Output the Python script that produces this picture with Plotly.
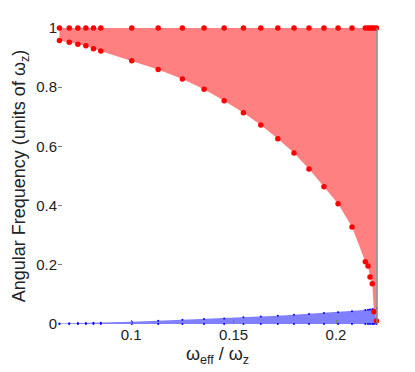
import plotly.graph_objects as go

# omega_eff / omega_z sample points
ratio = [0.0650, 0.0698, 0.0740, 0.0779, 0.0816, 0.0852, 0.1003, 0.1132, 0.1250,
         0.1356, 0.1454, 0.1548, 0.1633, 0.1716, 0.1795, 0.1868, 0.1941, 0.2010,
         0.2078, 0.2143, 0.2156, 0.2166, 0.2177, 0.2185, 0.2197]

# upper branch (red band top), lower branch (red band bottom)
red_upper = [1.0] * len(ratio)
red_lower = [0.958, 0.952, 0.945, 0.940, 0.930, 0.922, 0.889, 0.860, 0.828,
             0.793, 0.754, 0.714, 0.672, 0.626, 0.578, 0.524, 0.464, 0.406,
             0.328, 0.210, 0.196, 0.159, 0.136, 0.041, 0.010]

# low-frequency band (blue)
blue_lower = [0.0] * len(ratio)
blue_upper = [0.002, 0.0025, 0.003, 0.0035, 0.004, 0.0045, 0.008, 0.011, 0.014,
              0.017, 0.019, 0.023, 0.025, 0.028, 0.031, 0.034, 0.037, 0.040,
              0.043, 0.047, 0.048, 0.049, 0.050, 0.051, 0.053]

x_ticks = [0.1, 0.15, 0.2]
x_labels = ["0.1", "0.15", "0.2"]
y_ticks = [0, 0.2, 0.4, 0.6, 0.8, 1]
y_labels = ["0", "0.2", "0.4", "0.6", "0.8", "1"]

fig = go.Figure()

fig.add_trace(go.Scatter(x=ratio, y=blue_lower, mode="lines+markers",
                         line=dict(width=0, color="blue"),
                         marker=dict(color="blue", size=2),
                         cliponaxis=False, showlegend=False))
fig.add_trace(go.Scatter(x=ratio, y=blue_upper, mode="lines+markers",
                         line=dict(width=0, color="blue"),
                         marker=dict(color="blue", size=2),
                         fill="tonexty", fillcolor="rgb(128,128,255)",
                         cliponaxis=False, showlegend=False))

fig.add_trace(go.Scatter(x=ratio, y=red_upper, mode="lines+markers",
                         line=dict(width=0, color="red"),
                         marker=dict(color="red", size=5.5),
                         cliponaxis=False, showlegend=False))
fig.add_trace(go.Scatter(x=ratio, y=red_lower, mode="lines+markers",
                         line=dict(width=0, color="red"),
                         marker=dict(color="red", size=5.5),
                         fill="tonexty", fillcolor="rgb(255,128,128)",
                         cliponaxis=False, showlegend=False))

# gray edge on the right of the plot box
fig.add_shape(type="line", xref="paper", yref="paper", x0=1, x1=1, y0=0, y1=1,
              line=dict(color="gray", width=1.5))

fig.update_layout(
    width=415, height=372,
    margin=dict(l=50, r=46, t=20, b=56),
    plot_bgcolor="white", paper_bgcolor="white",
    font=dict(family="Liberation Sans, Arial, sans-serif", size=15, color="#222"),
    xaxis=dict(range=[0.0643, 0.2200], tickvals=x_ticks, ticktext=x_labels,
               ticks="inside", ticklen=4, tickcolor="#777", showline=False,
               showgrid=False, zeroline=False,
               title=dict(text="\u03c9<sub>eff</sub> / \u03c9<sub>z</sub>", standoff=5)),
    yaxis=dict(range=[0, 1], tickvals=y_ticks, ticktext=y_labels,
               ticks="inside", ticklen=4, tickcolor="#777", showline=False,
               showgrid=False, zeroline=False,
               title=dict(text="Angular Frequency (units of \u03c9<sub>z</sub>)", standoff=5)),
)

fig.write_html("out.html")
